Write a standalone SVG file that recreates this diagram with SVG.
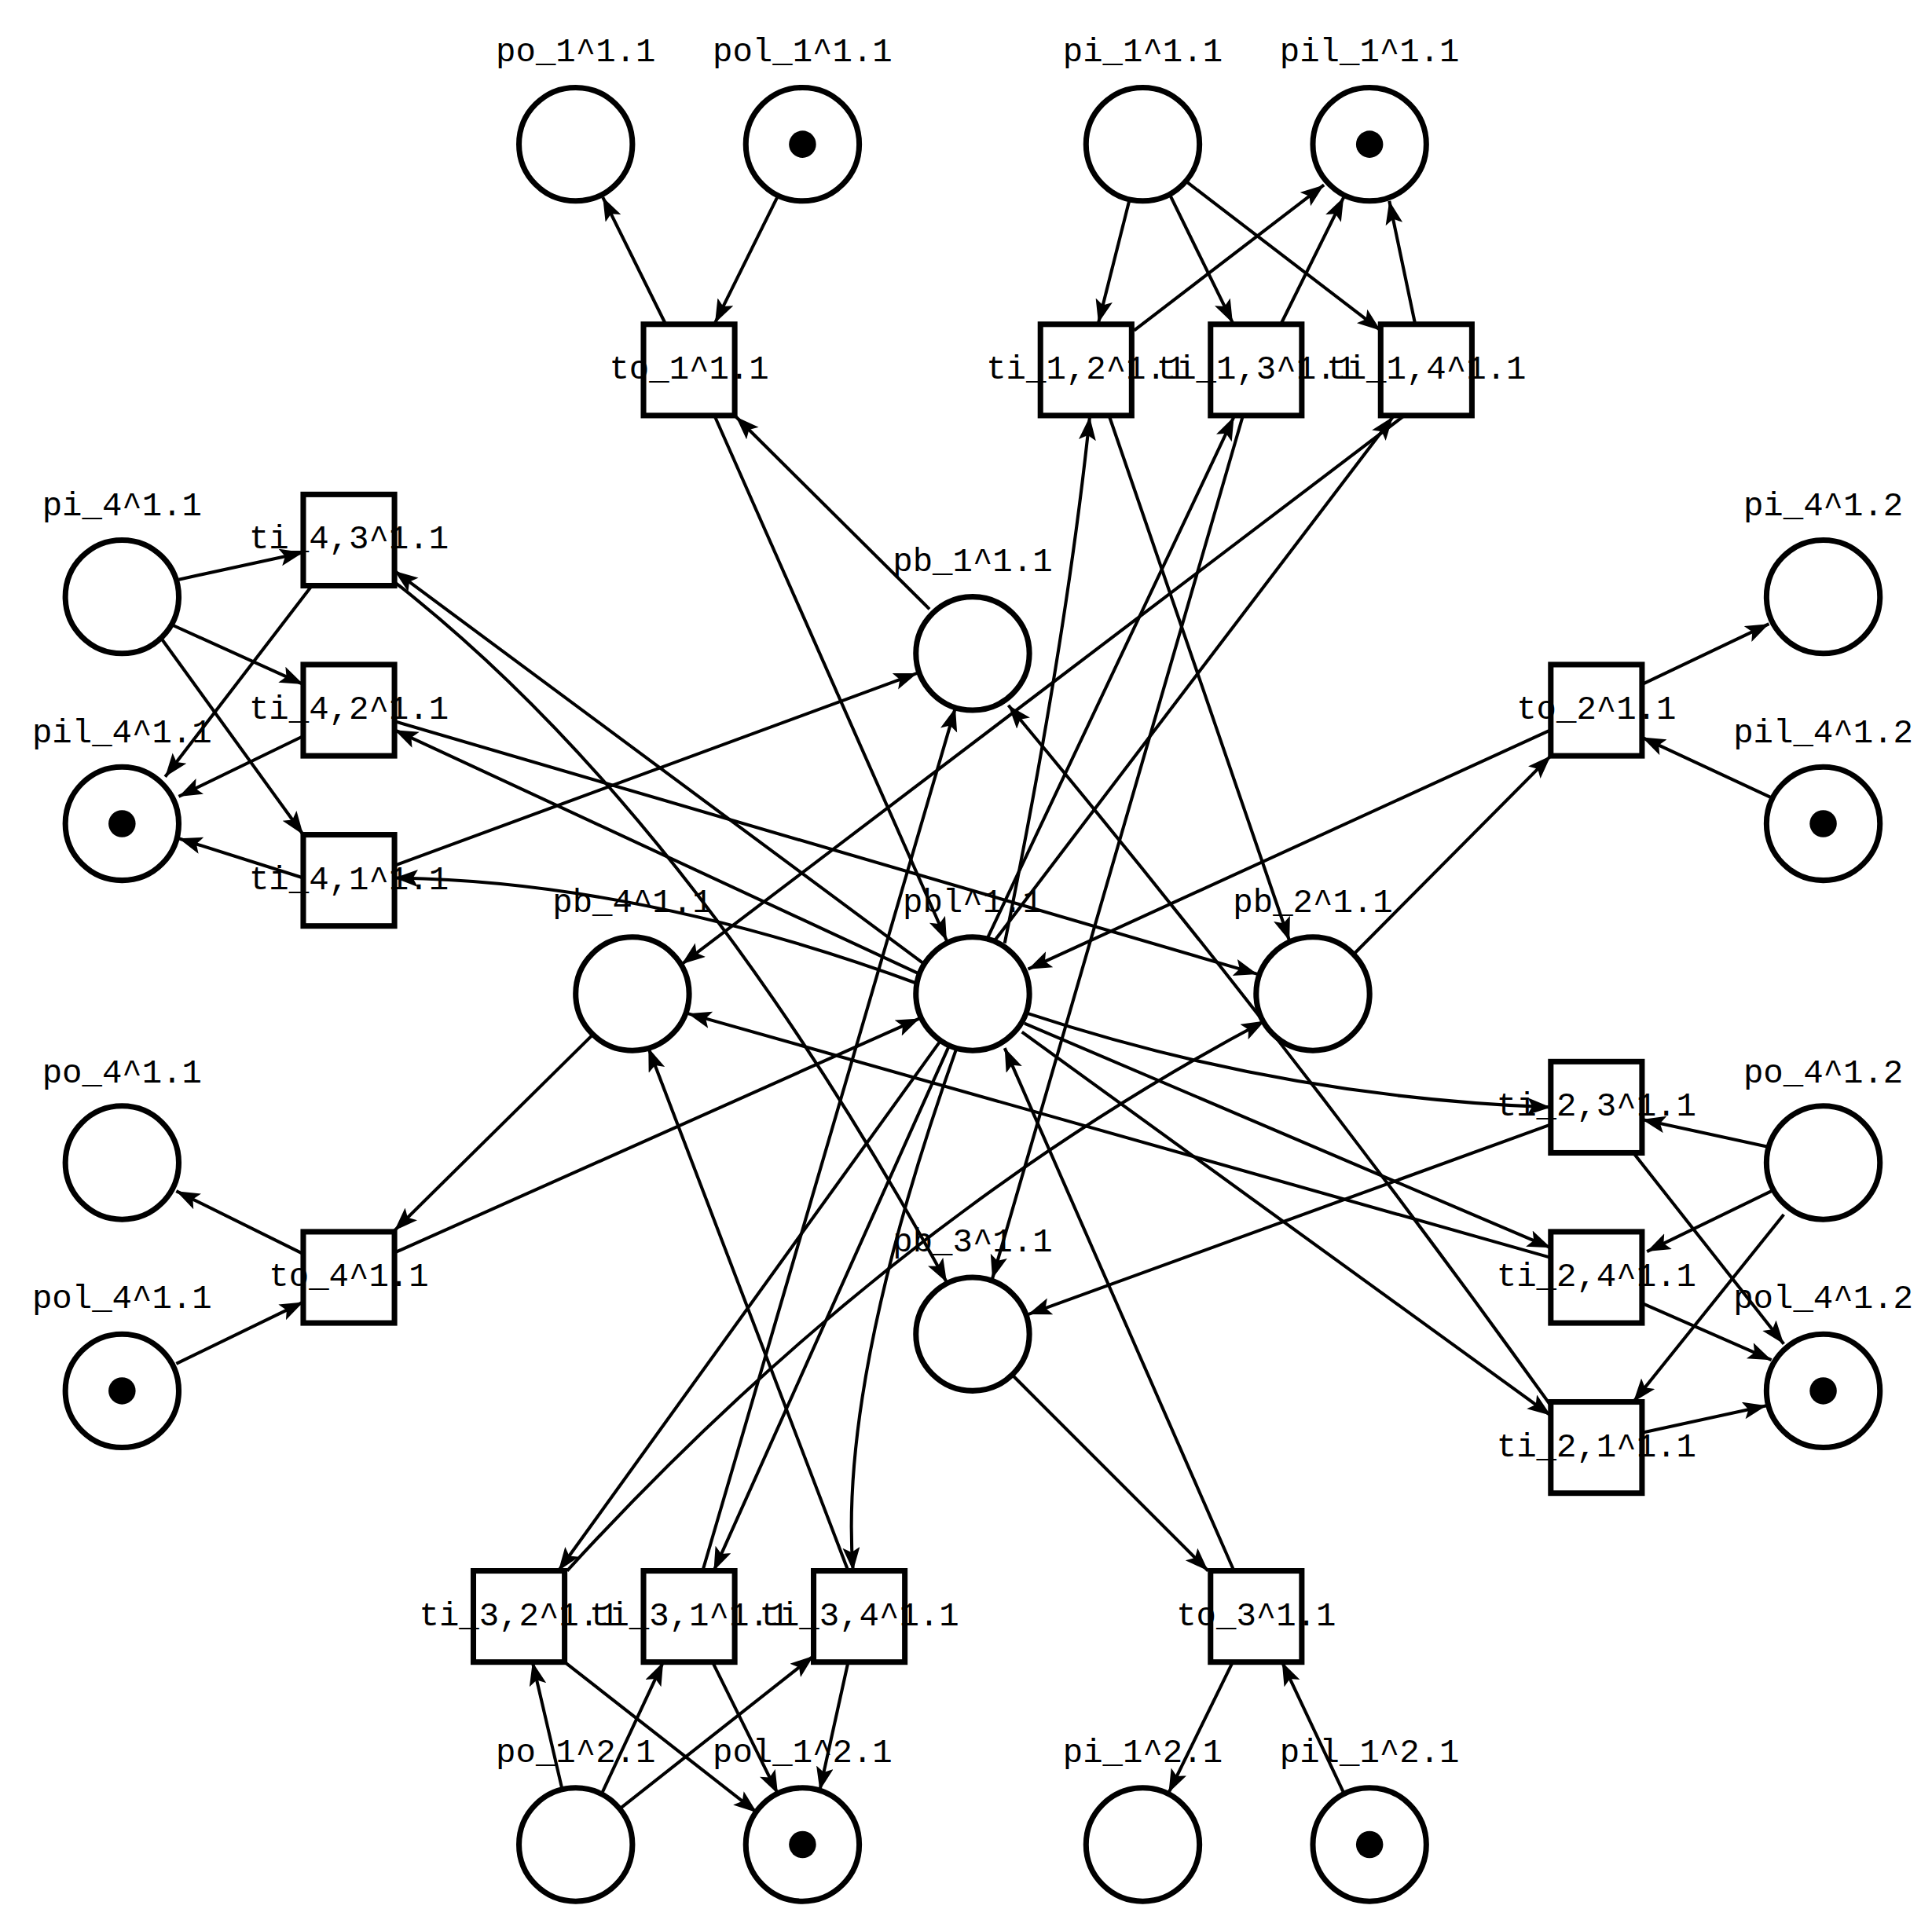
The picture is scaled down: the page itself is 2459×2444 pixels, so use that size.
<svg xmlns="http://www.w3.org/2000/svg" width="2459" height="2444" viewBox="0 0 2459 2444">
<style>
text{font-family:"Liberation Mono","Courier New",monospace;font-size:27px;text-anchor:middle;fill:#000}
.p{fill:none;stroke:#000;stroke-width:4.5}
.t{fill:none;stroke:#000;stroke-width:4.5}
.k{fill:#000}
#arcs path,#arcs line{stroke:#000;stroke-width:2.6;fill:none;marker-end:url(#ah)}
</style>
<defs><marker id="ah" markerUnits="userSpaceOnUse" markerWidth="22" markerHeight="16" refX="19" refY="7" orient="auto"><path d="M0,0 L19,7 L0,14 L4,7 Z" fill="#000"/></marker></defs>
<rect width="2459" height="2444" fill="#fff"/>
<g transform="scale(1.569,1.5695)">
<g id="arcs">
<line x1="540" y1="263" x2="489" y2="160"/>
<line x1="631" y1="159" x2="580" y2="262"/>
<line x1="916" y1="163" x2="891" y2="262"/>
<line x1="920" y1="268" x2="1074" y2="150"/>
<line x1="949" y1="158" x2="1000" y2="262"/>
<line x1="1039" y1="263" x2="1090" y2="160"/>
<line x1="962" y1="147" x2="1120" y2="268"/>
<line x1="1148" y1="263" x2="1127" y2="163"/>
<line x1="580" y1="338" x2="768" y2="763"/>
<line x1="754" y1="494" x2="597" y2="338"/>
<line x1="900" y1="338" x2="1046" y2="763"/>
<path d="M815,765 Q865,520 884,338"/>
<line x1="800" y1="763" x2="1001" y2="338"/>
<line x1="1008" y1="338" x2="805" y2="1037"/>
<line x1="806" y1="764" x2="1130" y2="338"/>
<line x1="1138" y1="338" x2="553" y2="782"/>
<line x1="145" y1="470" x2="246" y2="448"/>
<line x1="253" y1="475" x2="134" y2="630"/>
<line x1="140" y1="507" x2="246" y2="555"/>
<line x1="246" y1="597" x2="145" y2="646"/>
<line x1="131" y1="518" x2="246" y2="677"/>
<line x1="246" y1="712" x2="145" y2="680"/>
<line x1="750" y1="782" x2="320" y2="463"/>
<path d="M320,472 Q560,660 768,1040"/>
<line x1="746" y1="790" x2="320" y2="592"/>
<line x1="320" y1="585" x2="1020" y2="790"/>
<path d="M745,798 Q520,715 320,712"/>
<line x1="320" y1="702" x2="744" y2="546"/>
<line x1="1332" y1="555" x2="1435" y2="506"/>
<line x1="1437" y1="647" x2="1332" y2="598"/>
<line x1="1099" y1="773" x2="1258" y2="613"/>
<line x1="1258" y1="592" x2="834" y2="786"/>
<line x1="1434" y1="930" x2="1332" y2="908"/>
<line x1="1325" y1="935" x2="1447" y2="1090"/>
<line x1="1437" y1="966" x2="1336" y2="1015"/>
<line x1="1332" y1="1057" x2="1437" y2="1103"/>
<line x1="1447" y1="985" x2="1325" y2="1137"/>
<line x1="1332" y1="1162" x2="1433" y2="1140"/>
<path d="M834,822 Q1040,890 1258,898"/>
<line x1="1258" y1="912" x2="834" y2="1066"/>
<line x1="831" y1="830" x2="1258" y2="1012"/>
<line x1="1258" y1="1020" x2="558" y2="822"/>
<line x1="829" y1="837" x2="1258" y2="1148"/>
<path d="M1258,1140 Q1050,850 818,572"/>
<line x1="480" y1="840" x2="320" y2="998"/>
<line x1="246" y1="1017" x2="143" y2="966"/>
<line x1="143" y1="1106" x2="246" y2="1056"/>
<line x1="320" y1="1016" x2="746" y2="826"/>
<line x1="763" y1="844" x2="453" y2="1274"/>
<path d="M460,1274 Q720,990 1026,828"/>
<line x1="770" y1="848" x2="579" y2="1274"/>
<line x1="570" y1="1274" x2="775" y2="574"/>
<path d="M776,850 Q680,1120 692,1274"/>
<line x1="688" y1="1274" x2="526" y2="850"/>
<line x1="822" y1="1116" x2="980" y2="1274"/>
<line x1="1001" y1="1274" x2="815" y2="850"/>
<line x1="1000" y1="1348" x2="948" y2="1454"/>
<line x1="1090" y1="1454" x2="1040" y2="1348"/>
<line x1="456" y1="1451" x2="432" y2="1348"/>
<line x1="458" y1="1348" x2="614" y2="1470"/>
<line x1="488" y1="1455" x2="538" y2="1348"/>
<line x1="578" y1="1348" x2="631" y2="1455"/>
<line x1="504" y1="1466" x2="660" y2="1343"/>
<line x1="688" y1="1348" x2="665" y2="1452"/>
</g>
<g id="po_1_1.1"><circle class="p" cx="467" cy="117" r="46"/><text x="467" y="50">po_1^1.1</text></g>
<g id="pol_1_1.1"><circle class="p" cx="651" cy="117" r="46"/><circle class="k" cx="651" cy="117" r="11"/><text x="651" y="50">pol_1^1.1</text></g>
<g id="pi_1_1.1"><circle class="p" cx="927" cy="117" r="46"/><text x="927" y="50">pi_1^1.1</text></g>
<g id="pil_1_1.1"><circle class="p" cx="1111" cy="117" r="46"/><circle class="k" cx="1111" cy="117" r="11"/><text x="1111" y="50">pil_1^1.1</text></g>
<g id="pi_4_1.1"><circle class="p" cx="99" cy="484" r="46"/><text x="99" y="418">pi_4^1.1</text></g>
<g id="pil_4_1.1"><circle class="p" cx="99" cy="668" r="46"/><circle class="k" cx="99" cy="668" r="11"/><text x="99" y="602">pil_4^1.1</text></g>
<g id="pb_1_1.1"><circle class="p" cx="789" cy="530" r="46"/><text x="789" y="463">pb_1^1.1</text></g>
<g id="pi_4_1.2"><circle class="p" cx="1479" cy="484" r="46"/><text x="1479" y="418">pi_4^1.2</text></g>
<g id="pil_4_1.2"><circle class="p" cx="1479" cy="668" r="46"/><circle class="k" cx="1479" cy="668" r="11"/><text x="1479" y="602">pil_4^1.2</text></g>
<g id="pb_4_1.1"><circle class="p" cx="513" cy="806" r="46"/><text x="513" y="740">pb_4^1.1</text></g>
<g id="pbl_1.1"><circle class="p" cx="789" cy="806" r="46"/><text x="789" y="740">pbl^1.1</text></g>
<g id="pb_2_1.1"><circle class="p" cx="1065" cy="806" r="46"/><text x="1065" y="740">pb_2^1.1</text></g>
<g id="po_4_1.1"><circle class="p" cx="99" cy="943" r="46"/><text x="99" y="878">po_4^1.1</text></g>
<g id="po_4_1.2"><circle class="p" cx="1479" cy="943" r="46"/><text x="1479" y="878">po_4^1.2</text></g>
<g id="pol_4_1.1"><circle class="p" cx="99" cy="1128" r="46"/><circle class="k" cx="99" cy="1128" r="11"/><text x="99" y="1061">pol_4^1.1</text></g>
<g id="pb_3_1.1"><circle class="p" cx="789" cy="1082" r="46"/><text x="789" y="1015">pb_3^1.1</text></g>
<g id="pol_4_1.2"><circle class="p" cx="1479" cy="1128" r="46"/><circle class="k" cx="1479" cy="1128" r="11"/><text x="1479" y="1061">pol_4^1.2</text></g>
<g id="po_1_2.1"><circle class="p" cx="467" cy="1496" r="46"/><text x="467" y="1429">po_1^2.1</text></g>
<g id="pol_1_2.1"><circle class="p" cx="651" cy="1496" r="46"/><circle class="k" cx="651" cy="1496" r="11"/><text x="651" y="1429">pol_1^2.1</text></g>
<g id="pi_1_2.1"><circle class="p" cx="927" cy="1496" r="46"/><text x="927" y="1429">pi_1^2.1</text></g>
<g id="pil_1_2.1"><circle class="p" cx="1111" cy="1496" r="46"/><circle class="k" cx="1111" cy="1496" r="11"/><text x="1111" y="1429">pil_1^2.1</text></g>
<g id="to_1_1.1"><text x="559" y="307">to_1^1.1</text><rect class="t" x="522" y="263" width="74" height="74"/></g>
<g id="ti_1.2_1.1"><text x="881" y="307">ti_1,2^1.1</text><rect class="t" x="844" y="263" width="74" height="74"/></g>
<g id="ti_1.3_1.1"><text x="1019" y="307">ti_1,3^1.1</text><rect class="t" x="982" y="263" width="74" height="74"/></g>
<g id="ti_1.4_1.1"><text x="1157" y="307">ti_1,4^1.1</text><rect class="t" x="1120" y="263" width="74" height="74"/></g>
<g id="ti_4.3_1.1"><text x="283" y="445">ti_4,3^1.1</text><rect class="t" x="246" y="401" width="74" height="74"/></g>
<g id="ti_4.2_1.1"><text x="283" y="583">ti_4,2^1.1</text><rect class="t" x="246" y="539" width="74" height="74"/></g>
<g id="ti_4.1_1.1"><text x="283" y="721">ti_4,1^1.1</text><rect class="t" x="246" y="677" width="74" height="74"/></g>
<g id="to_2_1.1"><text x="1295" y="583">to_2^1.1</text><rect class="t" x="1258" y="539" width="74" height="74"/></g>
<g id="ti_2.3_1.1"><text x="1295" y="905">ti_2,3^1.1</text><rect class="t" x="1258" y="861" width="74" height="74"/></g>
<g id="ti_2.4_1.1"><text x="1295" y="1043">ti_2,4^1.1</text><rect class="t" x="1258" y="999" width="74" height="74"/></g>
<g id="ti_2.1_1.1"><text x="1295" y="1181">ti_2,1^1.1</text><rect class="t" x="1258" y="1137" width="74" height="74"/></g>
<g id="to_4_1.1"><text x="283" y="1043">to_4^1.1</text><rect class="t" x="246" y="999" width="74" height="74"/></g>
<g id="ti_3.2_1.1"><text x="421" y="1318">ti_3,2^1.1</text><rect class="t" x="384" y="1274" width="74" height="74"/></g>
<g id="ti_3.1_1.1"><text x="559" y="1318">ti_3,1^1.1</text><rect class="t" x="522" y="1274" width="74" height="74"/></g>
<g id="ti_3.4_1.1"><text x="697" y="1318">ti_3,4^1.1</text><rect class="t" x="660" y="1274" width="74" height="74"/></g>
<g id="to_3_1.1"><text x="1019" y="1318">to_3^1.1</text><rect class="t" x="982" y="1274" width="74" height="74"/></g>
</g>
</svg>
